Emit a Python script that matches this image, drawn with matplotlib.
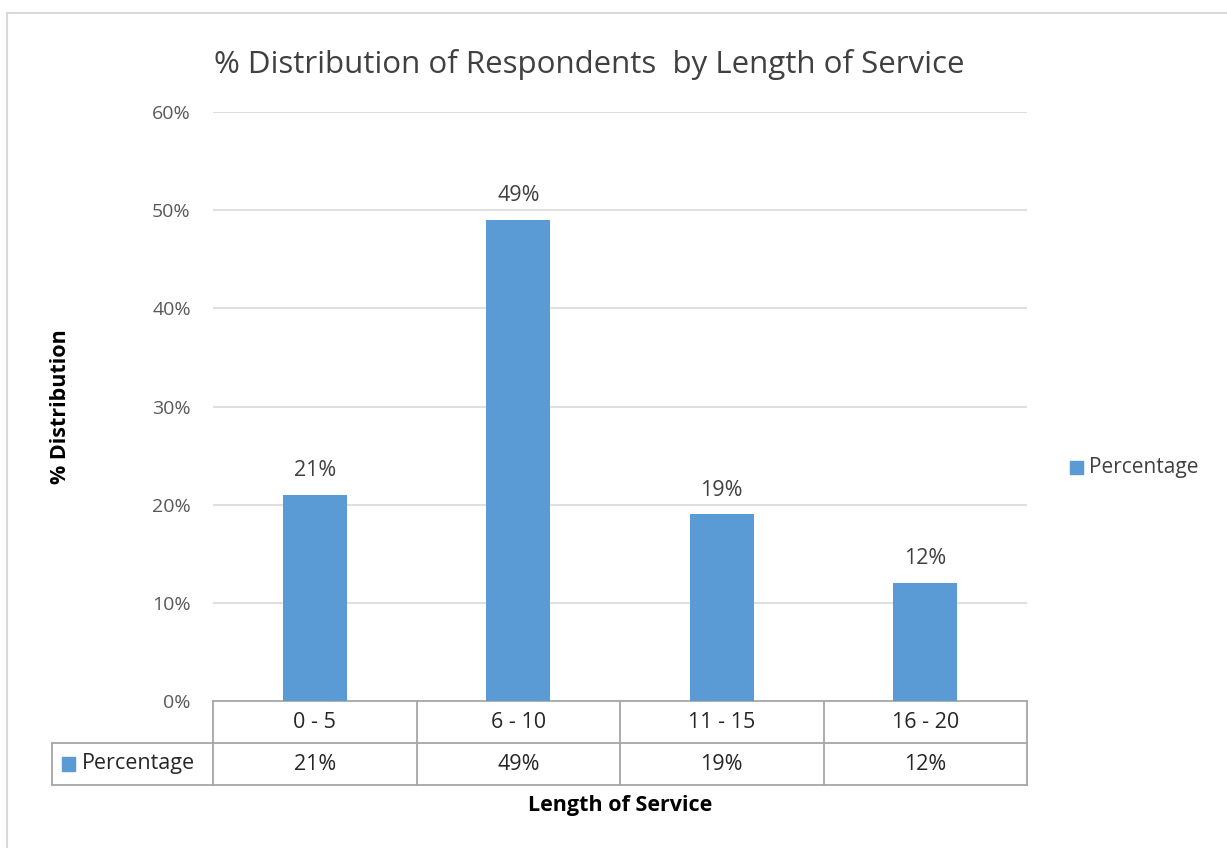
import matplotlib.pyplot as plt
import matplotlib.transforms as mtransforms
from matplotlib.patches import Rectangle

# Data
categories = ["0 - 5", "6 - 10", "11 - 15", "16 - 20"]
percentages = [21, 49, 19, 12]
series_name = "Percentage"
y_ticks = [0, 10, 20, 30, 40, 50, 60]

bar_color = "#5B9BD5"
grid_color = "#D9D9D9"
border_color = "#A6A6A6"
plt.rcParams["font.family"] = ["Open Sans", "DejaVu Sans"]

fig = plt.figure(figsize=(12.27, 8.48), dpi=100)

# outer chart frame
fig.patches.append(Rectangle((7 / 1227, -0.1), 1.2, (848 - 13) / 848 + 0.1,
                             transform=fig.transFigure, fill=False,
                             edgecolor="#D9D9D9", linewidth=1.5))

ax = fig.add_axes([213 / 1227, (848 - 701) / 848, 814 / 1227, 589 / 848])
x = list(range(len(categories)))
ax.bar(x, percentages, width=0.315, color=bar_color, zorder=3)
ax.set_xlim(-0.5, len(categories) - 0.5)
ax.set_ylim(0, 60)
ax.set_yticks(y_ticks)
ax.set_yticklabels([f"{t}%" for t in y_ticks], fontsize=14, color="#595959")
ax.set_xticks([])
ax.tick_params(axis="y", length=0, pad=16)
for t in y_ticks[1:]:
    ax.axhline(t, color=grid_color, linewidth=1.2, zorder=1)
for s in ax.spines.values():
    s.set_visible(False)

for xi, v in zip(x, percentages):
    ax.text(xi, v + 1.4, f"{v}%", ha="center", va="bottom", fontsize=15.5, color="#404040")

# data table under the axis
row_h = 42 / 589
blend = mtransforms.blended_transform_factory(ax.transData, ax.transAxes)
lw = 1.3
for k in range(len(categories) + 1):
    xe = k - 0.5
    ax.plot([xe, xe], [0, -2 * row_h], transform=blend, color=border_color,
            linewidth=lw, clip_on=False)
label_left = (52 - 213) / 814
for yy in [0, -row_h, -2 * row_h]:
    x0 = 0 if yy == 0 else label_left
    ax.plot([x0, 1], [yy, yy], transform=ax.transAxes, color=border_color,
            linewidth=lw, clip_on=False)
ax.plot([label_left, label_left], [-row_h, -2 * row_h], transform=ax.transAxes,
        color=border_color, linewidth=lw, clip_on=False)
for xi, c, v in zip(x, categories, percentages):
    ax.text(xi, -row_h / 2, c, transform=blend, ha="center", va="center",
            fontsize=15.5, color="#262626")
    ax.text(xi, -1.5 * row_h, f"{v}%", transform=blend, ha="center", va="center",
            fontsize=15.5, color="#262626")
ax.add_patch(Rectangle(((62 - 213) / 814, -1.5 * row_h - 7 / 589), 13 / 814, 14 / 589,
                       transform=ax.transAxes, color=bar_color, clip_on=False))
ax.text((82 - 213) / 814, -1.5 * row_h, series_name, transform=ax.transAxes,
        ha="left", va="center", fontsize=15.5, color="#262626")

# legend on the right
fig.patches.append(Rectangle((1070 / 1227, (848 - 474) / 848), 13 / 1227, 13 / 848,
                             transform=fig.transFigure, color=bar_color))
fig.text(1089 / 1227, (848 - 467) / 848, series_name, ha="left", va="center",
         fontsize=15, color="#404040")

fig.text(589 / 1227, (848 - 64) / 848, "% Distribution of Respondents  by Length of Service",
         ha="center", va="center", fontsize=22.5, color="#404040")
fig.text(61 / 1227, (848 - 407) / 848, "% Distribution", rotation=90, ha="center",
         va="center", fontsize=15.5, fontweight="bold", color="#000000")
fig.text(620 / 1227, (848 - 806) / 848, "Length of Service", ha="center", va="center",
         fontsize=15.5, fontweight="bold", color="#000000")

fig.savefig("out.png", dpi=100)
